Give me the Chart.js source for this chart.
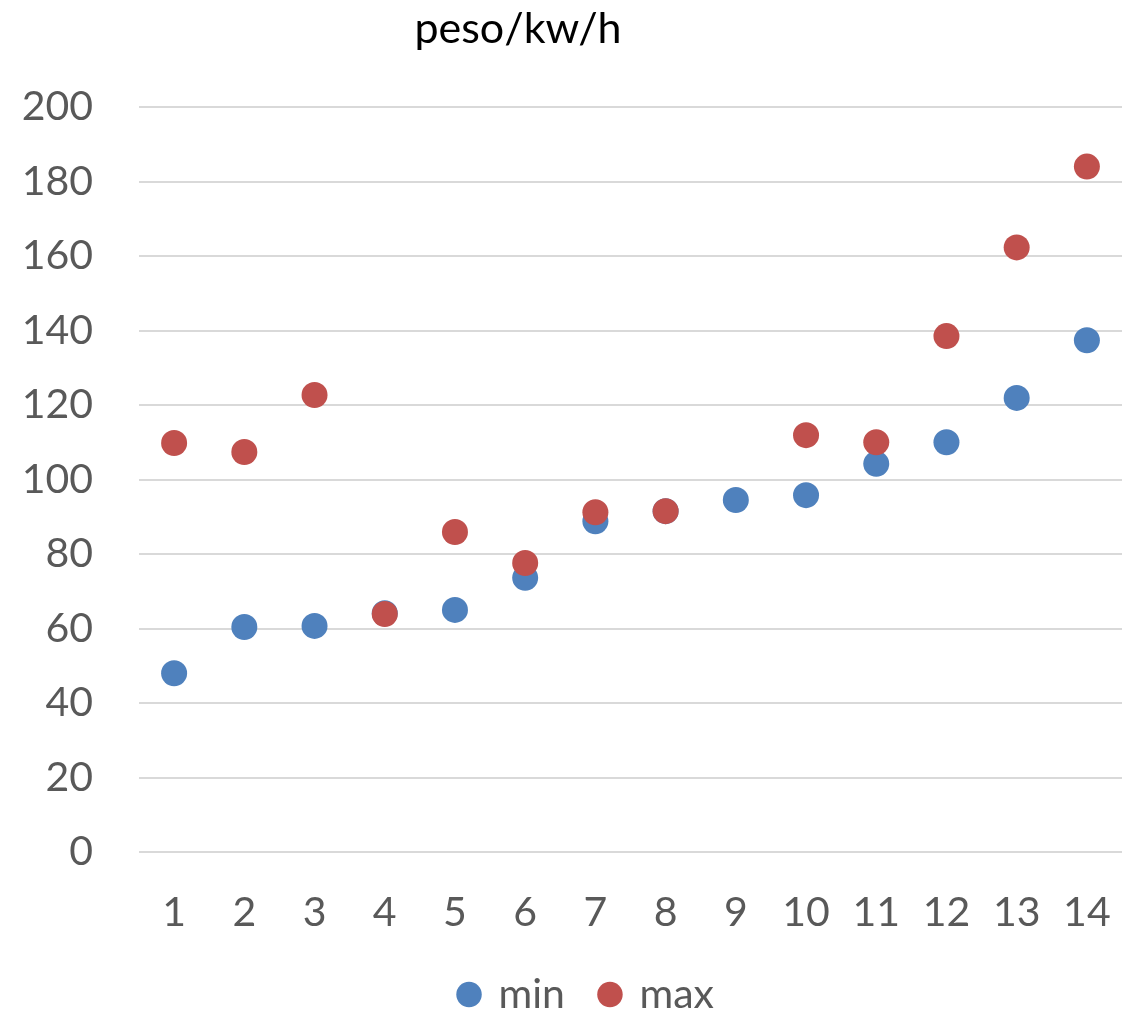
<!DOCTYPE html>
<html>
<head>
<meta charset="utf-8">
<title>peso/kw/h</title>
<script src="https://cdn.jsdelivr.net/npm/chart.js@4/dist/chart.umd.min.js"></script>
<style>
  html, body { margin: 0; padding: 0; background: #fff; overflow: hidden; }
  #chart-box { position: relative; width: 1122px; height: 1015px; }
  #chart { display: block; }
</style>
</head>
<body>
<div id="chart-box"><canvas id="chart"></canvas></div>
<script>
  // datos del grafico
  var titulo = "peso/kw/h";
  var categorias = ["1","2","3","4","5","6","7","8","9","10","11","12","13","14"];
  var valoresMin = [48, 60.4, 60.7, 64.1, 65, 73.6, 88.8, 91.5, 94.5, 95.8, 104.2, 110, 121.9, 137.4];
  var valoresMax = [109.8, 107.4, 122.7, 63.9, 85.9, 77.6, 91.2, 91.5, null, 111.9, 110, 138.5, 162.3, 184];
  var ticksY = [0, 20, 40, 60, 80, 100, 120, 140, 160, 180, 200];

  var azul = "#4F81BD";
  var rojo = "#C0504D";
  var gris = "#595959";
  var fuente = "Lato, 'Open Sans', sans-serif";

  // titulo dibujado a mano, un poco a la izquierda del centro
  var pluginTitulo = {
    id: "tituloPeso",
    afterDraw: function(chart){
      var ctx = chart.ctx;
      ctx.save();
      ctx.font = "43px " + fuente;
      ctx.fillStyle = "#000";
      ctx.textAlign = "center";
      ctx.textBaseline = "alphabetic";
      ctx.fillText(titulo, 518, 43);
      ctx.restore();
    }
  };

  // la leyenda se centra entre x=52 y el borde derecho
  var pluginLeyenda = {
    id: "leyendaCorrida",
    afterLayout: function(chart){
      if (chart.legend) chart.legend.left = 52;
    }
  };

  var datos = {
    labels: categorias,
    datasets: [
      {
        label: "min",
        data: valoresMin,
        order: 1,
        showLine: false,
        borderWidth: 0,
        backgroundColor: azul,
        borderColor: azul,
        pointStyle: "circle",
        pointRadius: 13,
        pointHoverRadius: 13,
        pointBorderWidth: 0,
        pointBackgroundColor: azul
      },
      {
        label: "max",
        data: valoresMax,
        order: 0,
        showLine: false,
        borderWidth: 0,
        backgroundColor: rojo,
        borderColor: rojo,
        pointStyle: "circle",
        pointRadius: 13,
        pointHoverRadius: 13,
        pointBorderWidth: 0,
        pointBackgroundColor: rojo
      }
    ]
  };

  var canvas = document.getElementById("chart").getContext("2d");
  window.grafico = new Chart(canvas, {
    type: "line",
    data: datos,
    plugins: [pluginTitulo, pluginLeyenda],
    options: {
      responsive: true,
      maintainAspectRatio: false,
      animation: false,
      layout: {
        autoPadding: false,
        padding: { top: 107, left: 0, right: 0, bottom: -10 }
      },
      plugins: {
        title: { display: false },
        tooltip: { enabled: false },
        legend: {
          position: "bottom",
          labels: {
            usePointStyle: true,
            boxWidth: 18,
            boxHeight: 18,
            padding: 36,
            color: gris,
            font: { family: fuente, size: 41 },
            sort: function(a, b){ return a.datasetIndex - b.datasetIndex; }
          }
        }
      },
      scales: {
        x: {
          offset: true,
          grid: { display: false, drawTicks: false },
          border: { display: false },
          ticks: {
            color: gris,
            padding: 36,
            maxRotation: 0,
            font: { family: fuente, size: 41 }
          },
          afterFit: function(scale){
            scale.height = 86;
            scale.paddingLeft = 0;
            scale.paddingRight = 0;
          }
        },
        y: {
          min: 0,
          max: 200,
          afterBuildTicks: function(scale){
            scale.ticks = ticksY.map(function(v){ return { value: v }; });
          },
          grid: { color: "#d9d9d9", lineWidth: 2, drawTicks: false },
          border: { display: false },
          ticks: {
            color: gris,
            padding: 46,
            font: { family: fuente, size: 41 }
          },
          afterFit: function(scale){ scale.width = 139; }
        }
      }
    }
  });
</script>
</body>
</html>
